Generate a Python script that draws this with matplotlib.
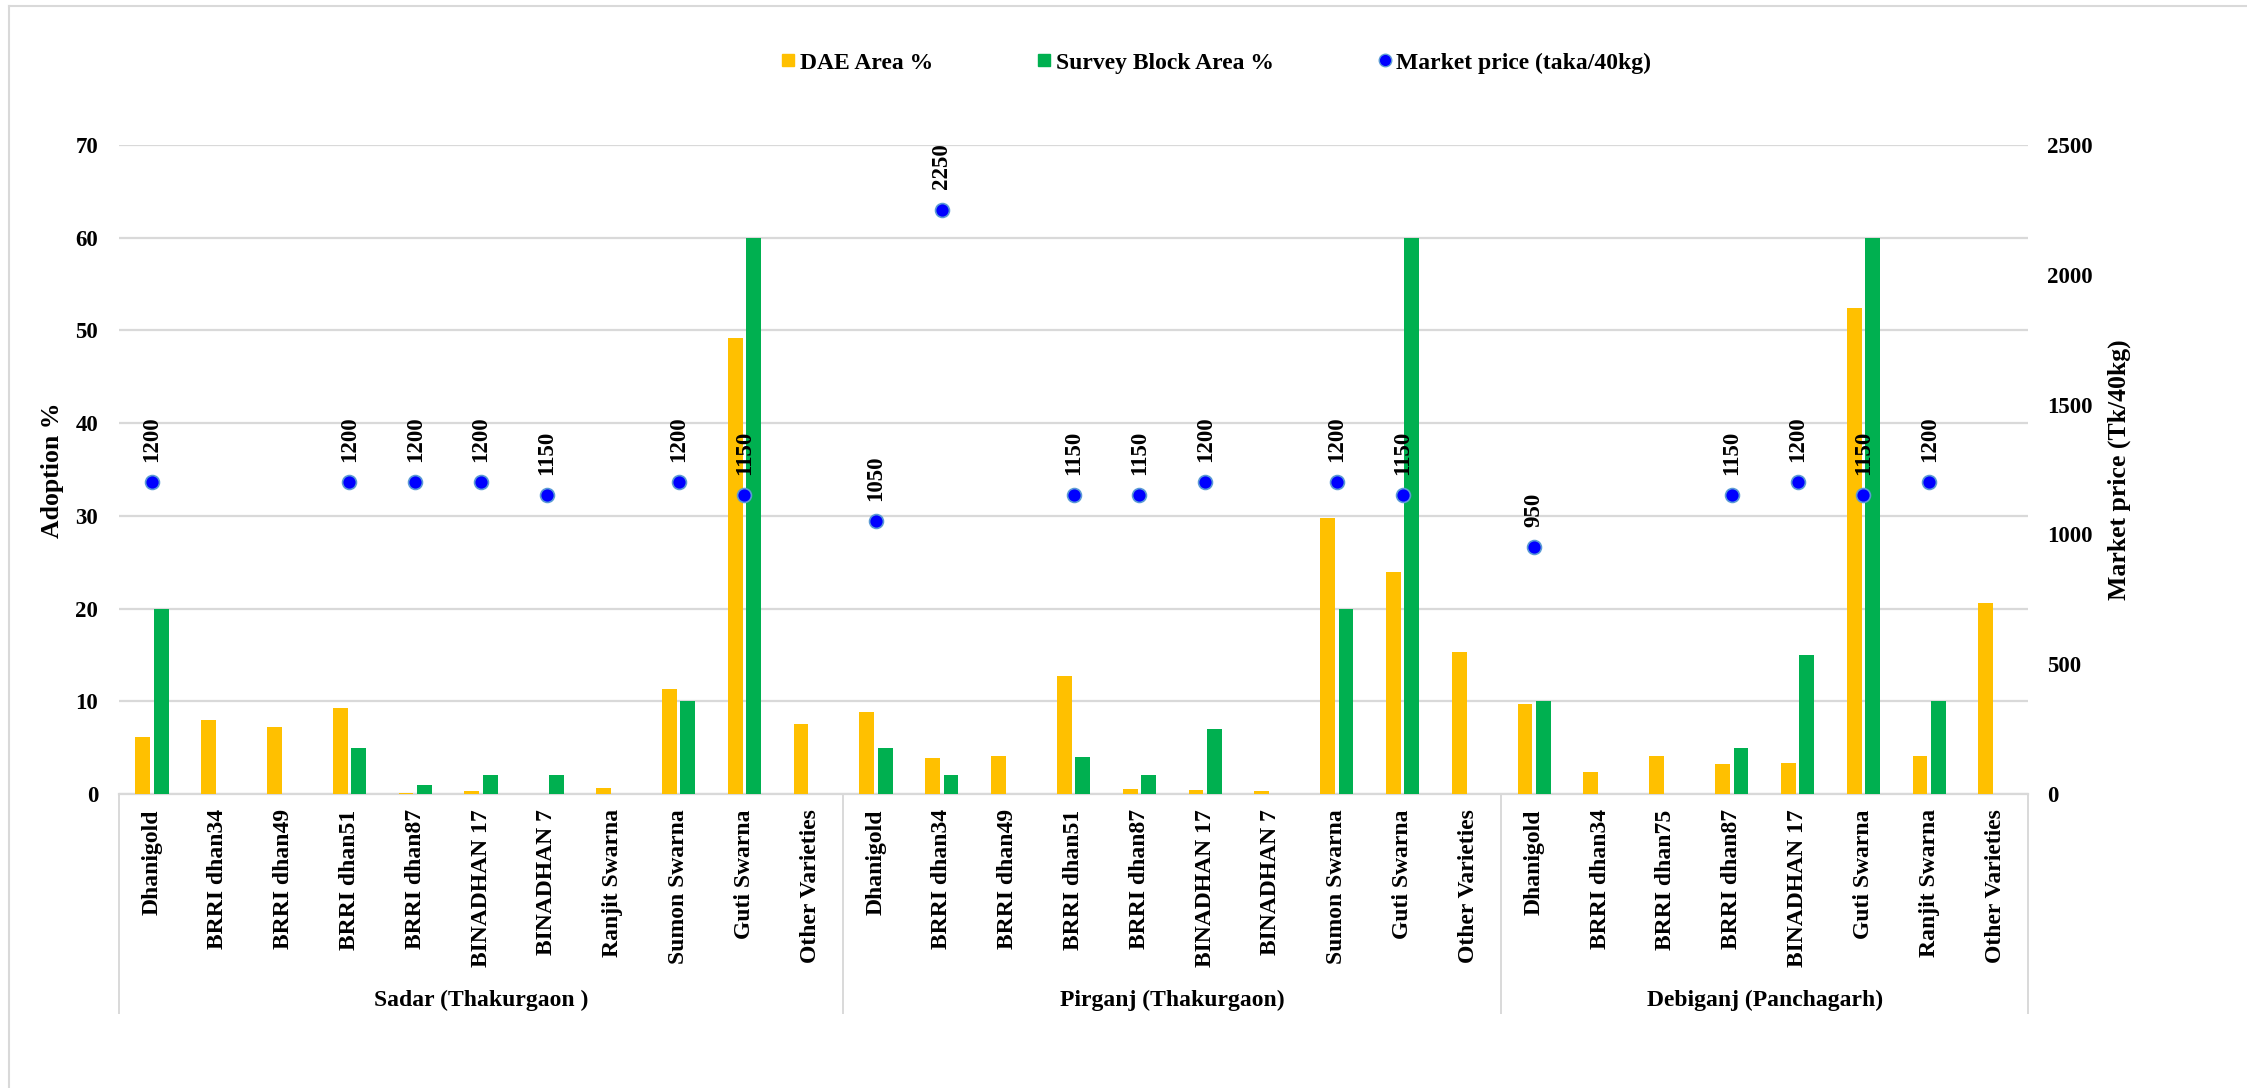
import numpy as np
import matplotlib
matplotlib.use("Agg")
import matplotlib.pyplot as plt
from matplotlib.lines import Line2D
import matplotlib.transforms as mtransforms

plt.rcParams['font.family'] = ['Liberation Serif', 'DejaVu Serif']
plt.rcParams['font.weight'] = 'bold'

# ---- data ----
groups = ["Sadar (Thakurgaon )", "Pirganj (Thakurgaon)", "Debiganj (Panchagarh)"]
sadar_varieties = ["Dhanigold", "BRRI dhan34", "BRRI dhan49", "BRRI dhan51", "BRRI dhan87",
                   "BINADHAN 17", "BINADHAN 7", "Ranjit Swarna", "Sumon Swarna", "Guti Swarna",
                   "Other Varieties"]
pirganj_varieties = ["Dhanigold", "BRRI dhan34", "BRRI dhan49", "BRRI dhan51", "BRRI dhan87",
                     "BINADHAN 17", "BINADHAN 7", "Sumon Swarna", "Guti Swarna", "Other Varieties"]
debiganj_varieties = ["Dhanigold", "BRRI dhan34", "BRRI dhan75", "BRRI dhan87", "BINADHAN 17",
                      "Guti Swarna", "Ranjit Swarna", "Other Varieties"]

dae_sadar = [6.2, 8.0, 7.2, 9.3, 0.15, 0.3, 0.0, 0.65, 11.3, 49.2, 7.6]
dae_pirganj = [8.8, 3.9, 4.15, 12.7, 0.58, 0.47, 0.36, 29.8, 23.9, 15.3]
dae_debiganj = [9.75, 2.4, 4.1, 3.25, 3.3, 52.4, 4.1, 20.6]

survey_sadar = [20, 0, 0, 5, 1, 2, 2, 0, 10, 60, 0]
survey_pirganj = [5, 2, 0, 4, 2, 7, 0, 20, 60, 0]
survey_debiganj = [10, 0, 0, 5, 15, 60, 10, 0]

nan = np.nan
price_sadar = [1200, nan, nan, 1200, 1200, 1200, 1150, nan, 1200, 1150, nan]
price_pirganj = [1050, 2250, nan, 1150, 1150, 1200, nan, 1200, 1150, nan]
price_debiganj = [950, nan, nan, 1150, 1200, 1150, 1200, nan]

left_ticks = [0, 10, 20, 30, 40, 50, 60, 70]
right_ticks = [0, 500, 1000, 1500, 2000, 2500]

# ---- assemble ----
varieties = sadar_varieties + pirganj_varieties + debiganj_varieties
dae = np.array(dae_sadar + dae_pirganj + dae_debiganj)
survey = np.array(survey_sadar + survey_pirganj + survey_debiganj)
price = np.array(price_sadar + price_pirganj + price_debiganj, dtype=float)
group_sizes = [len(sadar_varieties), len(pirganj_varieties), len(debiganj_varieties)]
x = np.arange(len(varieties))

GOLD = "#FFC000"
GREEN = "#00B050"
BLUE = "#0000FF"
GRID = "#D9D9D9"

W, H = 2247, 1088
fig = plt.figure(figsize=(W / 100, H / 100), dpi=100)
ax = fig.add_axes([119 / W, 1 - 794 / H, (2028 - 119) / W, (794 - 145) / H])

bw = 0.225
off = 0.14
ax.bar(x - off, dae, width=bw, color=GOLD, zorder=3)
ax.bar(x + off, survey, width=bw, color=GREEN, zorder=3)

ax.set_xlim(-0.5, len(varieties) - 0.5)
ax.set_ylim(0, 70)
ax.set_yticks(left_ticks)
ax.grid(axis='y', color=GRID, linewidth=1.6, zorder=0)
ax.set_axisbelow(True)
for s in ['top', 'right', 'left']:
    ax.spines[s].set_visible(False)
ax.spines['bottom'].set_color(GRID)
ax.spines['bottom'].set_linewidth(1.6)
ax.tick_params(axis='y', length=0, pad=15, labelsize=16.5)
ax.set_xticks(x)
ax.set_xticklabels(varieties, rotation=90, fontsize=17, fontweight='bold')
ax.tick_params(axis='x', length=0, pad=11)
for lab in ax.get_yticklabels():
    lab.set_fontweight('bold')

# secondary axis: market price
ax2 = ax.twinx()
ax2.set_ylim(0, 2500)
ax2.set_yticks(right_ticks)
for s in ['top', 'right', 'left', 'bottom']:
    ax2.spines[s].set_visible(False)
ax2.tick_params(axis='y', length=0, pad=14, labelsize=16.5)
for lab in ax2.get_yticklabels():
    lab.set_fontweight('bold')
ax2.plot(x, price, linestyle='none', marker='o', markersize=10,
         markerfacecolor=BLUE, markeredgecolor="#5B9BD5", markeredgewidth=1.2, zorder=5)
for xi, p in zip(x, price):
    if not np.isnan(p):
        ax2.annotate(f"{int(p)}", (xi, p), xytext=(0, 15), textcoords='offset points',
                     rotation=90, ha='center', va='bottom', fontsize=16.5,
                     fontweight='bold', zorder=6)

# group separators and group names under the category axis
trans = mtransforms.blended_transform_factory(ax.transData, ax.transAxes)
bounds = np.concatenate([[0], np.cumsum(group_sizes)]) - 0.5
for b in bounds:
    ax.add_line(Line2D([b, b], [0, -0.3374], transform=trans, color=GRID,
                       linewidth=1.4, clip_on=False))
for g, lo, hi in zip(groups, bounds[:-1], bounds[1:]):
    ax.text((lo + hi) / 2, -0.318, g, transform=trans, ha='center', va='center',
            fontsize=17, fontweight='bold')

# axis titles
fig.text(52 / W, 1 - 470 / H, "Adoption %", rotation=90, ha='center', va='center',
         fontsize=18.5, fontweight='bold')
fig.text(2119 / W, 1 - 470 / H, "Market price (Tk/40kg)", rotation=90, ha='center',
         va='center', fontsize=18.5, fontweight='bold')

# legend
handles = [
    Line2D([], [], linestyle='none', marker='s', markersize=8.5, color=GOLD),
    Line2D([], [], linestyle='none', marker='s', markersize=8.5, color=GREEN),
    Line2D([], [], linestyle='none', marker='o', markersize=9,
           markerfacecolor=BLUE, markeredgecolor="#5B9BD5"),
]
labels = ["DAE Area %", "Survey Block Area %", "Market price (taka/40kg)"]
fig.legend(handles, labels, loc='center', bbox_to_anchor=(1216 / W, 1 - 63 / H),
           ncol=3, frameon=False, fontsize=17, handlelength=0.6, handletextpad=0.2,
           columnspacing=4.4, prop={'weight': 'bold', 'size': 17})

# outer frame
fig.add_artist(Line2D([9 / W, 9 / W], [0, 1 - 6 / H], transform=fig.transFigure,
                      color=GRID, linewidth=1.5))
fig.add_artist(Line2D([9 / W, 1], [1 - 6 / H, 1 - 6 / H], transform=fig.transFigure,
                      color=GRID, linewidth=1.5))

fig.savefig("out.png", dpi=100, facecolor='white')
